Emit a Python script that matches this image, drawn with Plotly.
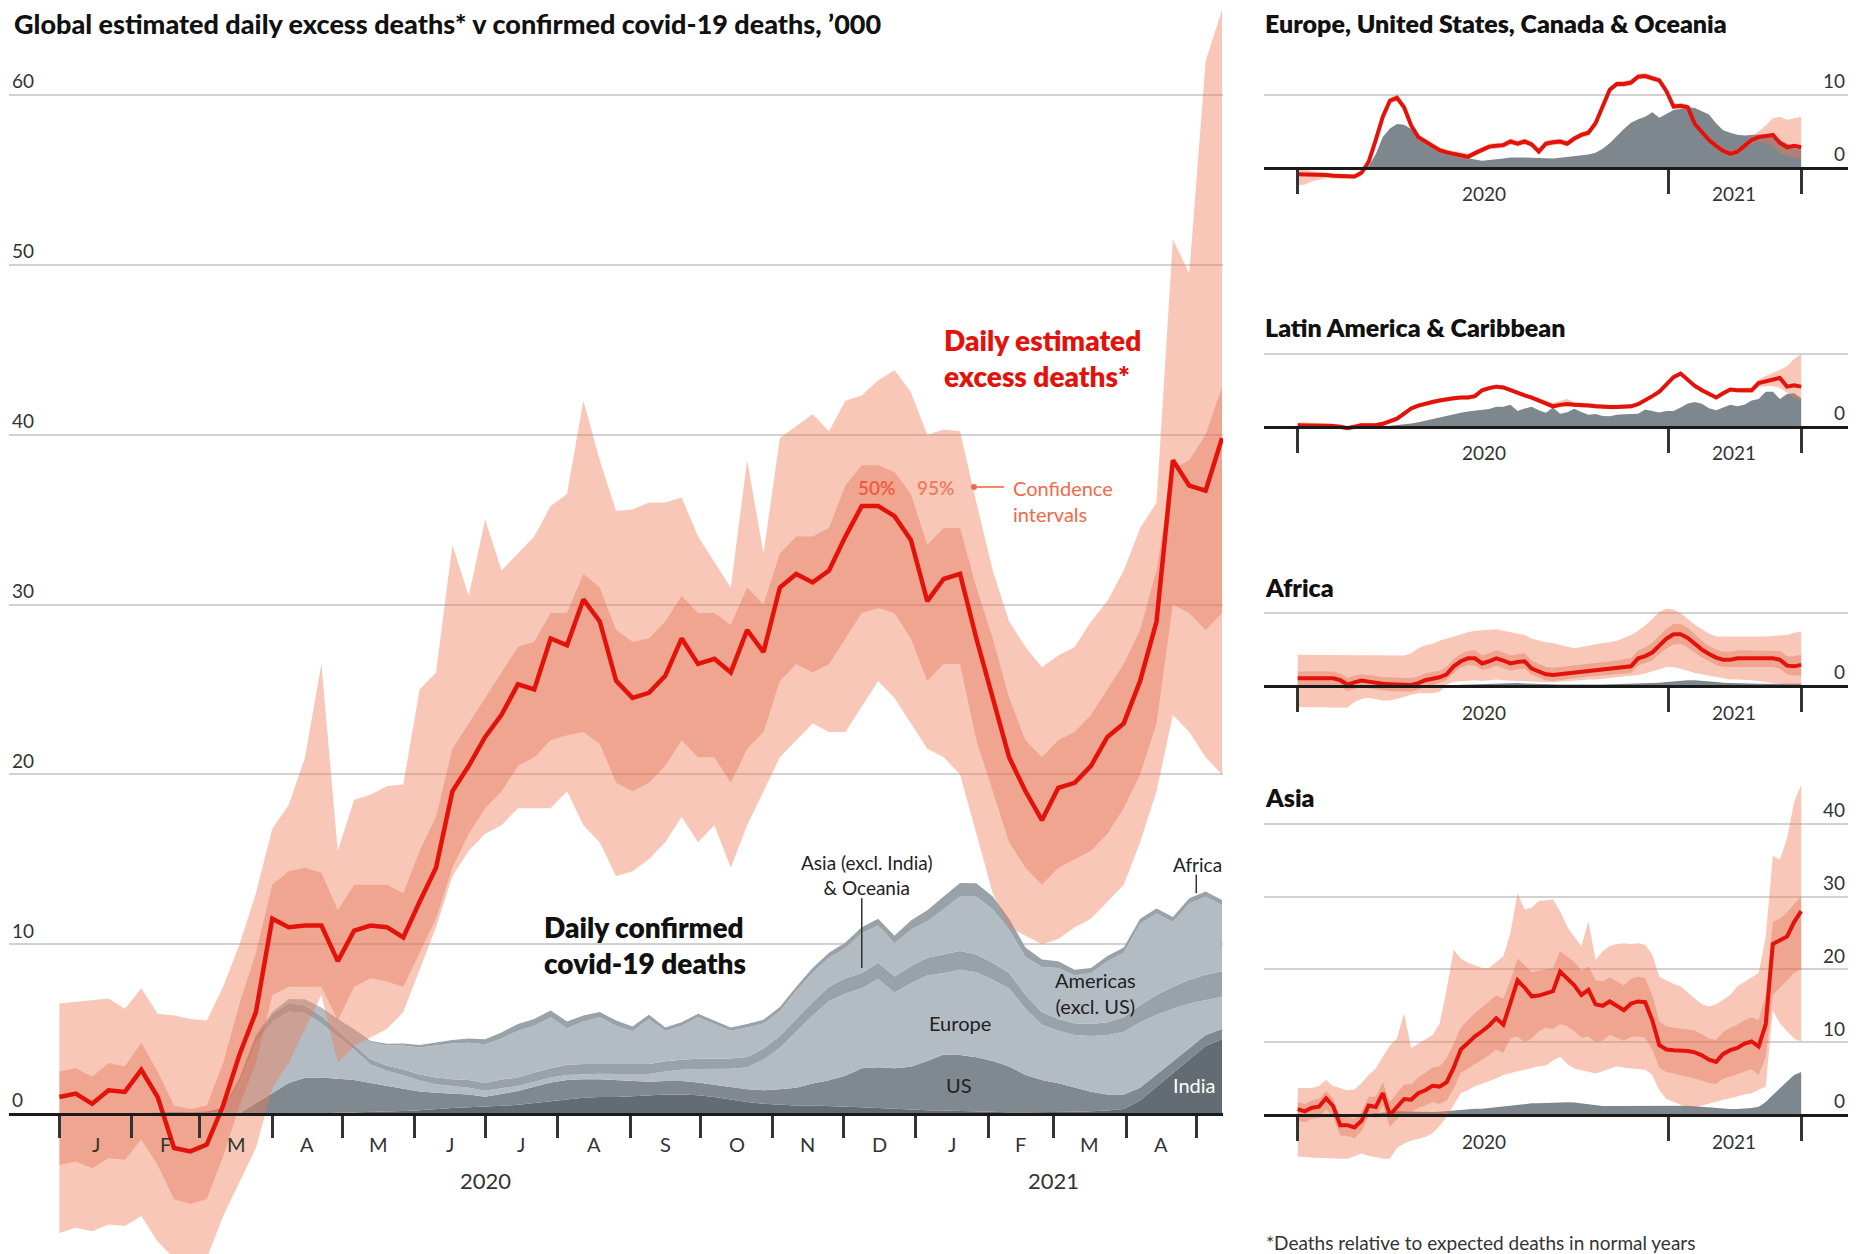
import pandas as pd
import plotly.graph_objects as go

W, H = 1863, 1254

# ---------------- data (thousands of deaths per day, weekly from 1 Jan 2020) ----------------
N_WEEKS = 72
START = "2020-01-01"

EXCESS_MEDIAN = [1.0, 1.2, 0.6, 1.4, 1.3, 2.6, 1.0, -2.0, -2.2, -1.8,
                 0.5, 3.5, 6.0, 11.5, 11.0, 11.1, 11.1, 9.0, 10.8, 11.1,
                 11.0, 10.4, 12.5, 14.5, 19.0, 20.5, 22.2, 23.5, 25.3, 25.0,
                 28.0, 27.6, 30.3, 29.0, 25.5, 24.5, 24.8, 25.8, 28.0, 26.5,
                 26.8, 26.0, 28.5, 27.2, 31.0, 31.8, 31.3, 32.0, 34.0, 35.8,
                 35.8, 35.2, 33.8, 30.2, 31.5, 31.8, 28.0, 24.5, 21.0, 19.0,
                 17.3, 19.2, 19.5, 20.5, 22.2, 23.0, 25.5, 29.0, 38.5, 37.0,
                 36.7, 39.8]
EXCESS_UP95 = [6.5, 6.6, 6.7, 6.8, 6.2, 7.4, 5.9, 5.8, 5.6, 5.5,
               7.5, 10.0, 13.0, 16.8, 18.2, 21.0, 26.5, 15.5, 18.5, 18.8,
               19.3, 19.4, 25.0, 26.0, 33.5, 30.5, 35.0, 32.0, 33.0, 34.0,
               35.8, 36.5, 42.0, 38.5, 35.5, 35.6, 36.0, 36.0, 36.3, 34.0,
               32.5, 31.0, 38.5, 33.0, 39.8, 40.5, 41.2, 40.2, 42.0, 42.3,
               43.2, 43.8, 42.5, 40.0, 40.3, 40.2, 36.0, 32.0, 29.0, 27.5,
               26.3, 27.0, 27.5, 29.0, 30.2, 32.0, 34.5, 36.0, 51.5, 49.5,
               62.0, 65.0]
EXCESS_LO95 = [-7.0, -6.7, -6.9, -6.5, -6.6, -6.0, -7.5, -8.5, -8.5, -8.5,
               -6.0, -4.0, -2.0, 1.5, 3.0, 5.0, 7.0, 3.0, 4.0, 4.5,
               5.0, 6.0, 8.5, 11.0, 14.0, 15.5, 16.5, 17.0, 18.0, 18.0,
               18.0, 19.0, 17.0, 16.0, 14.0, 14.3, 15.0, 16.0, 17.5, 16.0,
               17.0, 14.5, 17.0, 19.0, 21.0, 22.0, 23.0, 22.5, 22.5, 24.0,
               25.5, 24.5, 23.0, 21.5, 21.0, 20.0, 16.5, 13.0, 11.0, 10.5,
               10.0, 10.3, 11.0, 11.5, 12.5, 13.5, 16.0, 19.0, 23.5, 22.5,
               21.0, 20.0]
EXCESS_UP50 = [2.5, 2.7, 2.2, 3.0, 2.8, 4.2, 2.5, 0.5, 0.3, 0.5,
               3.0, 6.5, 9.5, 13.5, 14.3, 14.5, 14.2, 12.0, 13.5, 13.5,
               13.5, 13.0, 15.5, 17.5, 21.5, 23.0, 24.5, 26.0, 27.5, 27.8,
               29.5, 29.5, 31.8, 31.0, 28.5, 27.8, 28.0, 29.0, 30.5, 29.5,
               29.5, 28.8, 31.0, 30.0, 33.0, 34.0, 34.0, 34.5, 37.0, 38.2,
               38.2, 37.8, 36.5, 33.5, 34.5, 34.5, 31.0, 28.0, 24.5, 22.0,
               21.0, 22.0, 22.5, 23.5, 25.0, 26.5, 28.5, 32.0, 38.0, 38.5,
               40.0, 42.8]
EXCESS_LO50 = [-3.0, -2.8, -3.2, -2.6, -2.7, -1.5, -3.0, -5.0, -5.3, -5.0,
               -2.5, 0.5, 3.0, 7.0, 7.5, 7.5, 7.5, 5.5, 7.5, 8.0,
               7.8, 7.5, 9.5, 11.5, 14.5, 16.5, 18.0, 19.0, 20.5, 21.0,
               22.0, 22.3, 22.5, 21.8, 19.5, 19.0, 19.5, 20.5, 22.0, 21.0,
               21.0, 19.5, 21.5, 22.5, 25.5, 26.5, 26.0, 26.5, 28.0, 29.5,
               29.8, 29.5, 28.0, 25.5, 26.5, 26.5, 22.0, 19.0, 16.0, 14.5,
               13.5, 14.5, 15.0, 15.5, 16.5, 18.0, 20.0, 23.0, 30.0, 29.5,
               28.5, 29.5]

# confirmed covid-19 deaths by region (stack, bottom to top)
CONF_INDIA = [0, 0, 0, 0, 0, 0, 0, 0, 0, 0,
              0, 0, 0.01, 0.02, 0.03, 0.04, 0.05, 0.07, 0.1, 0.12,
              0.14, 0.18, 0.22, 0.3, 0.35, 0.4, 0.42, 0.48, 0.55, 0.65,
              0.75, 0.85, 0.95, 1.0, 1.0, 1.05, 1.1, 1.15, 1.15, 1.1,
              1.0, 0.85, 0.7, 0.6, 0.55, 0.5, 0.5, 0.48, 0.45, 0.4,
              0.35, 0.3, 0.28, 0.22, 0.2, 0.17, 0.14, 0.12, 0.1, 0.1,
              0.1, 0.11, 0.13, 0.16, 0.2, 0.3, 0.8, 1.6, 2.4, 3.2,
              4.0, 4.4]
CONF_US = [0, 0, 0, 0, 0, 0, 0, 0, 0, 0,
           0.01, 0.05, 0.6, 1.2, 1.8, 2.1, 2.1, 2.0, 1.9, 1.7,
           1.5, 1.3, 1.1, 0.95, 0.85, 0.75, 0.6, 0.7, 0.8, 0.95,
           1.1, 1.15, 1.1, 1.05, 1.0, 0.9, 0.8, 0.8, 0.8, 0.75,
           0.72, 0.72, 0.75, 0.8, 0.9, 1.05, 1.3, 1.5, 1.8, 2.3,
           2.4, 2.4, 2.5, 2.9, 3.3, 3.3, 3.2, 3.0, 2.7, 2.2,
           1.9, 1.7, 1.45, 1.15, 0.95, 0.85, 0.75, 0.72, 0.7, 0.68,
           0.65, 0.6]
CONF_EUROPE = [0, 0, 0, 0, 0, 0, 0, 0, 0.01, 0.05,
               0.2, 1.8, 3.6, 4.2, 4.2, 3.8, 3.2, 2.5, 1.8, 1.1,
               0.9, 0.8, 0.65, 0.5, 0.45, 0.4, 0.35, 0.35, 0.3, 0.3,
               0.3, 0.3, 0.3, 0.32, 0.35, 0.4, 0.45, 0.55, 0.65, 0.8,
               0.95, 1.1, 1.3, 1.8, 2.45, 3.3, 4.0, 4.67, 4.85, 4.7,
               5.2, 4.45, 4.92, 5.03, 4.8, 5.03, 5.0, 4.78, 4.6, 3.9,
               3.25, 3.09, 3.07, 3.29, 3.5, 3.7, 3.85, 3.53, 3.1, 2.62,
               2.05, 1.9]
CONF_ASIA = [0, 0, 0, 0, 0.02, 0.05, 0.1, 0.12, 0.1, 0.1,
             0.15, 0.25, 0.35, 0.45, 0.5, 0.45, 0.4, 0.35, 0.3, 0.3,
             0.3, 0.35, 0.35, 0.4, 0.4, 0.45, 0.45, 0.5, 0.5, 0.55,
             0.55, 0.6, 0.6, 0.6, 0.6, 0.6, 0.6, 0.6, 0.6, 0.6,
             0.6, 0.6, 0.6, 0.65, 0.7, 0.75, 0.8, 0.85, 0.9, 0.9,
             0.95, 0.95, 1.0, 1.05, 1.1, 1.1, 1.05, 1.0, 0.9, 0.8,
             0.75, 0.7, 0.7, 0.7, 0.75, 0.85, 1.0, 1.15, 1.3, 1.4,
             1.5, 1.5]
CONF_AMERICAS = [0, 0, 0, 0, 0, 0, 0, 0, 0, 0,
                 0.01, 0.03, 0.06, 0.12, 0.2, 0.3, 0.45, 0.6, 0.8, 1.0,
                 1.2, 1.4, 1.6, 1.9, 2.1, 2.2, 2.28, 2.42, 2.75, 2.75,
                 3.0, 2.15, 2.5, 2.73, 2.25, 1.92, 2.65, 1.78, 2.0, 2.45,
                 2.03, 1.63, 1.75, 1.48, 1.45, 1.65, 1.72, 1.7, 1.78, 2.35,
                 2.2, 1.95, 2.15, 2.15, 2.65, 3.2, 3.4, 3.15, 2.55, 2.25,
                 2.65, 3.0, 2.8, 3.0, 3.6, 3.8, 4.8, 4.8, 3.8, 4.5,
                 4.6, 3.9]
CONF_AFRICA = [0, 0, 0, 0, 0, 0, 0, 0, 0, 0,
               0, 0, 0.01, 0.02, 0.03, 0.05, 0.05, 0.06, 0.07, 0.08,
               0.1, 0.12, 0.15, 0.18, 0.2, 0.25, 0.3, 0.35, 0.4, 0.4,
               0.4, 0.4, 0.35, 0.3, 0.3, 0.28, 0.25, 0.22, 0.2, 0.2,
               0.2, 0.2, 0.2, 0.22, 0.25, 0.25, 0.28, 0.3, 0.32, 0.35,
               0.4, 0.45, 0.55, 0.65, 0.75, 0.8, 0.8, 0.75, 0.65, 0.55,
               0.45, 0.4, 0.35, 0.3, 0.3, 0.3, 0.3, 0.3, 0.3, 0.3,
               0.3, 0.3]

# regional panels: estimated excess deaths
EUCO_MEDIAN = [-0.9, -0.9, -1.0, -1.0, -1.0, -1.1, -1.1, -1.2, -1.2, -0.7,
               0.8, 3.8, 7.0, 9.2, 9.6, 8.3, 5.8, 4.2, 3.6, 3.0,
               2.4, 2.1, 1.9, 1.8, 1.5, 2.0, 2.4, 2.9, 3.0, 3.1,
               3.6, 3.3, 3.6, 3.2, 2.2, 3.3, 3.5, 3.6, 3.3, 4.0,
               4.5, 4.8, 6.1, 8.5, 10.7, 11.5, 11.5, 11.7, 12.5, 12.6,
               12.3, 12.0, 10.5, 8.4, 8.5, 8.3, 6.0, 4.8, 3.8, 3.0,
               2.3, 1.9, 2.2, 3.0, 3.8, 4.2, 4.4, 4.5, 3.4, 2.8,
               3.0, 2.8]
EUCO_UP95 = [-0.1, -0.2, -0.5, -0.6, -0.7, -0.8, -0.8, -0.9, -0.9, -0.4,
             1.2, 4.2, 7.4, 9.6, 10.0, 8.7, 6.2, 4.6, 4.0, 3.4,
             2.8, 2.5, 2.3, 2.2, 1.9, 2.4, 2.8, 3.3, 3.4, 3.5,
             4.0, 3.7, 4.0, 3.6, 2.6, 3.7, 3.9, 4.0, 3.7, 4.4,
             4.9, 5.2, 6.5, 8.9, 11.1, 11.9, 11.9, 12.1, 12.9, 13.0,
             12.7, 12.4, 10.9, 8.8, 8.9, 8.7, 6.4, 5.2, 4.2, 3.4,
             2.7, 2.3, 2.6, 3.4, 4.3, 5.0, 5.8, 6.8, 7.0, 6.6,
             6.8, 7.0]
EUCO_LO95 = [-2.4, -2.3, -1.9, -1.6, -1.4, -1.5, -1.5, -1.6, -1.6, -1.1,
             0.4, 3.4, 6.6, 8.8, 9.2, 7.9, 5.4, 3.8, 3.2, 2.6,
             2.0, 1.7, 1.5, 1.4, 1.1, 1.6, 2.0, 2.5, 2.6, 2.7,
             3.2, 2.9, 3.2, 2.8, 1.8, 2.9, 3.1, 3.2, 2.9, 3.6,
             4.1, 4.4, 5.7, 8.1, 10.3, 11.1, 11.1, 11.3, 12.1, 12.2,
             11.9, 11.6, 10.1, 8.0, 8.1, 7.9, 5.6, 4.4, 3.4, 2.6,
             1.9, 1.5, 1.8, 2.6, 3.3, 3.6, 3.4, 3.0, 2.0, 1.6,
             1.4, 1.2]

LATAM_MEDIAN = [0.2, 0.2, 0.2, 0.2, 0.2, 0.1, 0.0, -0.2, 0.0, 0.2,
                0.2, 0.2, 0.4, 0.7, 1.1, 1.8, 2.5, 2.9, 3.2, 3.4,
                3.6, 3.8, 3.9, 4.0, 4.0, 4.2, 5.0, 5.3, 5.5, 5.4,
                5.0, 4.6, 4.3, 4.0, 3.6, 3.2, 2.8, 3.0, 3.1, 3.0,
                3.0, 2.9, 2.8, 2.7, 2.7, 2.7, 2.7, 2.8, 3.1, 3.6,
                4.2, 4.8, 5.8, 6.8, 7.3, 6.5, 5.6, 5.0, 4.5, 4.0,
                4.6, 5.1, 5.0, 5.0, 5.0, 6.0, 6.2, 6.5, 6.7, 5.5,
                5.7, 5.5]
LATAM_UP95 = [0.6, 0.6, 0.55, 0.5, 0.5, 0.4, 0.3, 0.1, 0.3, 0.5,
              0.5, 0.5, 0.7, 1.0, 1.4, 2.1, 2.8, 3.2, 3.5, 3.7,
              3.9, 4.1, 4.2, 4.3, 4.3, 4.5, 5.3, 5.6, 5.8, 5.7,
              5.3, 4.9, 4.6, 4.3, 3.9, 3.6, 3.3, 3.6, 3.8, 3.4,
              3.3, 3.2, 3.1, 3.0, 3.0, 3.0, 3.0, 3.1, 3.4, 3.9,
              4.5, 5.1, 6.1, 7.1, 7.6, 6.8, 5.9, 5.3, 4.8, 4.3,
              4.9, 5.4, 5.3, 5.3, 5.4, 6.5, 7.0, 7.4, 7.8, 8.3,
              9.3, 10.0]
LATAM_LO95 = [-0.2, -0.2, -0.15, -0.1, -0.1, -0.2, -0.3, -0.5, -0.3, -0.1,
              -0.1, -0.1, 0.1, 0.4, 0.8, 1.5, 2.2, 2.6, 2.9, 3.1,
              3.3, 3.5, 3.6, 3.7, 3.7, 3.9, 4.7, 5.0, 5.2, 5.1,
              4.7, 4.3, 4.0, 3.7, 3.3, 2.9, 2.5, 2.7, 2.8, 2.7,
              2.7, 2.6, 2.5, 2.4, 2.4, 2.4, 2.4, 2.5, 2.8, 3.3,
              3.9, 4.5, 5.5, 6.5, 7.0, 6.2, 5.3, 4.7, 4.2, 3.7,
              4.3, 4.8, 4.7, 4.7, 4.6, 5.5, 5.6, 5.6, 5.3, 4.6,
              4.0, 3.5]

AFRICA_MEDIAN = [1.06, 1.06, 1.06, 1.06, 1.06, 1.06, 0.8, 0.2, 0.5, 0.75,
                 0.6, 0.4, 0.3, 0.25, 0.2, 0.15, 0.15, 0.4, 0.8, 1.0,
                 1.2, 1.6, 2.7, 3.4, 3.8, 3.8, 3.1, 3.4, 3.8, 3.5,
                 3.1, 3.3, 3.4, 2.4, 2.0, 1.6, 1.5, 1.6, 1.8, 1.9,
                 2.0, 2.1, 2.2, 2.3, 2.4, 2.5, 2.6, 2.7, 3.8, 4.1,
                 4.6, 5.6, 6.5, 7.1, 7.1, 6.6, 5.8, 5.0, 4.4, 3.9,
                 3.6, 3.6, 3.8, 3.8, 3.7, 3.7, 3.7, 3.8, 3.6, 2.8,
                 2.7, 2.9]
AFRICA_UP95 = [4.3, 4.3, 4.3, 4.3, 4.3, 4.3, 4.3, 4.3, 4.3, 4.3,
               4.3, 4.2, 4.2, 4.2, 4.2, 4.2, 4.5, 5.2, 5.6, 5.8,
               6.2, 6.5, 6.8, 7.2, 7.4, 7.6, 7.7, 7.8, 7.8, 7.6,
               7.4, 7.2, 7.0, 6.5, 6.2, 6.0, 5.9, 5.6, 5.4, 5.2,
               5.4, 5.5, 5.7, 5.9, 6.0, 6.2, 6.6, 7.0, 7.6, 8.3,
               9.2, 10.2, 10.6, 10.5, 10.0, 9.2, 8.4, 7.8, 7.2, 6.8,
               6.8, 6.7, 6.8, 6.8, 6.7, 6.8, 6.8, 6.9, 6.9, 7.0,
               7.3, 7.5]
AFRICA_LO95 = [-2.9, -2.9, -2.9, -2.9, -2.9, -2.9, -2.9, -3.0, -2.2, -1.8,
               -1.6, -1.8, -2.0, -2.0, -1.8, -1.5, -1.2, -1.0, -1.0, -1.0,
               -0.8, 0.2, 0.6, 0.7, 0.8, 0.8, 0.7, 0.8, 0.9, 0.8,
               0.7, 0.7, 0.7, 0.6, 0.5, 0.5, 0.5, 0.6, 0.7, 0.8,
               0.8, 0.9, 0.9, 1.0, 1.0, 1.1, 1.2, 1.3, 1.5, 1.7,
               2.0, 2.3, 2.6, 2.6, 2.4, 2.1, 1.8, 1.6, 1.4, 1.2,
               1.0, 0.9, 0.9, 0.9, 0.8, 0.7, 0.6, 0.5, 0.4, 0.2,
               0.0, 0.0]
AFRICA_UP50 = [2.0, 2.0, 2.0, 2.0, 2.0, 2.0, 1.7, 1.1, 1.4, 1.6,
               1.5, 1.3, 1.2, 1.2, 1.1, 1.1, 1.1, 1.3, 1.7, 1.9,
               2.1, 2.6, 3.7, 4.4, 4.8, 4.9, 4.2, 4.5, 4.9, 4.6,
               4.2, 4.4, 4.5, 3.5, 3.0, 2.6, 2.5, 2.6, 2.8, 2.9,
               3.0, 3.1, 3.2, 3.3, 3.4, 3.5, 3.7, 3.8, 4.9, 5.3,
               5.9, 6.9, 7.9, 8.5, 8.5, 8.0, 7.1, 6.2, 5.5, 5.0,
               4.7, 4.7, 4.9, 4.9, 4.8, 4.8, 4.8, 4.9, 4.8, 4.1,
               4.1, 4.3]
AFRICA_LO50 = [0.1, 0.1, 0.1, 0.1, 0.1, 0.1, -0.1, -0.7, -0.4, -0.1,
               -0.3, -0.5, -0.6, -0.7, -0.7, -0.8, -0.8, -0.5, -0.1, 0.1,
               0.4, 0.8, 1.8, 2.5, 2.9, 2.8, 2.2, 2.4, 2.8, 2.5,
               2.1, 2.3, 2.4, 1.5, 1.1, 0.8, 0.7, 0.8, 1.0, 1.1,
               1.2, 1.3, 1.3, 1.4, 1.5, 1.6, 1.7, 1.8, 2.8, 3.1,
               3.5, 4.4, 5.2, 5.7, 5.8, 5.3, 4.6, 3.9, 3.4, 2.9,
               2.6, 2.6, 2.7, 2.7, 2.6, 2.6, 2.6, 2.6, 2.4, 1.6,
               1.4, 1.5]

ASIA_MEDIAN = [0.8, 0.5, 1.0, 1.15, 2.3, 1.2, -1.4, -1.4, -1.7, -0.8,
               1.3, 1.1, 3.0, 0.0, 1.1, 2.2, 2.1, 3.0, 3.4, 4.0,
               3.9, 4.5, 6.5, 9.0, 9.9, 10.8, 11.5, 12.3, 13.3, 12.4,
               15.4, 18.5, 17.5, 16.3, 16.4, 16.7, 17.0, 19.7, 18.8, 17.8,
               16.5, 17.2, 15.2, 15.0, 15.6, 15.0, 14.4, 15.3, 15.6, 15.5,
               13.0, 9.6, 9.0, 8.9, 8.9, 8.8, 8.6, 8.2, 7.6, 7.3,
               8.4, 8.9, 9.2, 9.8, 10.1, 9.4, 12.5, 23.5, 24.0, 24.5,
               26.5, 28.0]
ASIA_UP95 = [3.7, 3.7, 3.7, 4.0, 4.8, 4.0, 3.7, 3.4, 3.5, 4.4,
             5.5, 6.4, 8.0, 9.5, 10.5, 14.0, 9.2, 9.8, 10.3, 11.0,
             12.5, 17.2, 22.7, 21.5, 20.9, 20.5, 20.2, 20.2, 21.0, 21.8,
             25.0, 30.5, 28.2, 28.5, 29.4, 29.5, 29.6, 28.0, 25.9, 24.5,
             23.2, 26.6, 21.3, 22.5, 23.2, 23.5, 23.6, 23.5, 23.6, 23.4,
             22.0, 19.0, 18.5, 18.0, 17.7, 16.8, 16.0, 15.2, 14.9, 15.2,
             15.8, 16.5, 17.7, 18.3, 18.9, 19.5, 24.5, 35.6, 35.1, 38.0,
             43.0, 45.4]
ASIA_LO95 = [-5.7, -5.8, -5.8, -5.9, -5.9, -6.0, -6.0, -6.0, -5.6, -5.3,
             -5.6, -5.8, -6.0, -6.0, -4.5, -3.9, -3.5, -3.3, -3.0, -2.5,
             -1.5, -0.2, 1.5, 3.0, 3.4, 4.0, 4.3, 4.6, 5.0, 5.5,
             5.8, 6.0, 6.2, 6.5, 6.7, 6.8, 7.5, 8.0, 7.0, 6.4,
             6.2, 5.9, 5.7, 6.0, 6.4, 6.7, 6.5, 6.4, 6.2, 6.2,
             5.5, 3.4, 2.2, 1.8, 1.4, 1.15, 1.15, 1.3, 1.6, 1.8,
             2.1, 2.3, 2.6, 2.8, 3.0, 3.5, 3.9, 14.4, 12.6, 11.5,
             10.5, 10.1]
ASIA_UP50 = [1.8, 1.5, 2.0, 2.2, 3.3, 2.3, -0.2, -0.2, -0.5, 0.4,
             2.5, 2.5, 4.5, 1.8, 3.0, 4.2, 4.2, 5.2, 5.8, 6.5,
             6.7, 7.8, 9.8, 12.0, 13.0, 14.0, 14.8, 15.6, 16.4, 16.0,
             18.5, 21.5, 20.5, 19.6, 19.8, 20.0, 20.2, 22.5, 21.8, 21.0,
             19.8, 20.4, 18.5, 18.3, 18.9, 18.4, 17.8, 18.7, 19.0, 18.8,
             16.5, 12.8, 12.2, 12.0, 11.9, 11.8, 11.6, 11.1, 10.5, 10.3,
             11.4, 12.0, 12.4, 13.0, 13.4, 13.0, 16.5, 26.5, 27.0, 27.8,
             29.0, 30.0]
ASIA_LO50 = [-0.8, -1.0, -0.5, -0.4, 0.8, -0.3, -2.8, -2.9, -3.2, -2.2,
             -0.2, -0.4, 1.3, -1.6, -0.6, 0.4, 0.3, 1.0, 1.3, 1.8,
             1.5, 2.0, 3.6, 5.8, 6.4, 7.0, 7.6, 8.2, 9.0, 8.5,
             10.5, 10.8, 10.0, 10.5, 11.5, 12.0, 11.8, 12.5, 12.2, 11.5,
             10.6, 10.8, 10.0, 10.2, 11.0, 10.6, 10.2, 10.7, 10.8, 10.6,
             9.0, 6.5, 5.9, 5.7, 5.5, 5.2, 5.0, 4.7, 4.4, 4.3,
             5.0, 5.3, 5.6, 6.0, 6.3, 5.5, 8.0, 16.5, 17.5, 18.5,
             19.5, 20.0]

MONTH_LETTERS = ["J", "F", "M", "A", "M", "J", "J", "A", "S", "O", "N", "D",
                 "J", "F", "M", "A"]
MAIN_YTICKS = [0, 10, 20, 30, 40, 50, 60]
YEAR_LABELS = ["2020", "2021"]

# ---------------- derived ----------------
dates = pd.date_range(START, periods=N_WEEKS, freq="7D")
X = [d.strftime("%Y-%m-%d") for d in dates]
JAN1 = pd.Timestamp("2020-01-01")
LAST = dates[-1]

def add(a, b):
    return [p + q for p, q in zip(a, b)]

PANEL_GREY = {
    "euco": add(CONF_US, CONF_EUROPE),
    "latam": CONF_AMERICAS,
    "africa": CONF_AFRICA,
    "asia": add(CONF_INDIA, CONF_ASIA),
}

# ---------------- styling / geometry ----------------
FONT = "Lato, 'Open Sans', sans-serif"
RED = "#e3120b"
BAND95 = "rgba(239,122,85,0.42)"
BAND50 = "rgba(226,96,64,0.33)"
GRID = "#d2d2d2"
INK = "#1a1a1a"

def px2p_x(px):
    return px / W

def px2p_y(py):
    return 1 - py / H

def ydom(top_px, bot_px):
    return [px2p_y(bot_px), px2p_y(top_px)]

def yrng(zero_px, top_px, bot_px, scale):
    return [(zero_px - bot_px) / scale, (zero_px - top_px) / scale]

def date_at(px, ref_px, per_day):
    return JAN1 + pd.Timedelta(days=(px - ref_px) / per_day)

# main panel geometry
M_L, M_R = 9.0, 1223.0
M_JAN_PX = 59.4
M_PXD = (1222.0 - M_JAN_PX) / (LAST - JAN1).days
M_ZERO = 1114.0
M_SCALE = (1114.0 - 95.0) / 60.0
M_TOP, M_BOT = 8.0, 1254.0

# small panels geometry
S_L, S_R = 1263.7, 1848.0
S_JAN_PX = 1297.7
S_PXD = (1801.2 - S_JAN_PX) / (LAST - JAN1).days
S_SCALE = 7.28
PANELS = [
    # key, title, zero px, top px, bottom px, gridline ticks, title y
    ("euco", "Europe, United States, Canada & Oceania", 167.7, 62.0, 192.0, [0, 10], 23),
    ("latam", "Latin America & Caribbean", 426.7, 345.0, 451.0, [0, 10], 327),
    ("africa", "Africa", 686.0, 600.0, 711.0, [0, 10], 587),
    ("asia", "Asia", 1115.0, 776.0, 1166.0, [0, 10, 20, 30, 40], 797),
]
PANEL_SERIES = {
    "euco": (EUCO_MEDIAN, EUCO_UP95, EUCO_LO95, None, None),
    "latam": (LATAM_MEDIAN, LATAM_UP95, LATAM_LO95, None, None),
    "africa": (AFRICA_MEDIAN, AFRICA_UP95, AFRICA_LO95, AFRICA_UP50, AFRICA_LO50),
    "asia": (ASIA_MEDIAN, ASIA_UP95, ASIA_LO95, ASIA_UP50, ASIA_LO50),
}

fig = go.Figure()

def band(lo, hi, color, xa, ya):
    fig.add_trace(go.Scatter(x=X, y=lo, mode="lines", line=dict(width=0),
                             xaxis=xa, yaxis=ya, hoverinfo="skip", showlegend=False))
    fig.add_trace(go.Scatter(x=X, y=hi, mode="lines", line=dict(width=0), fill="tonexty",
                             fillcolor=color, xaxis=xa, yaxis=ya, hoverinfo="skip",
                             showlegend=False))

# ---- main chart: stacked confirmed deaths
STACK = [
    ("India", CONF_INDIA, "#636c72"),
    ("US", CONF_US, "#80898f"),
    ("Europe", CONF_EUROPE, "#b4bcc3"),
    ("Asia (excl. India) & Oceania", CONF_ASIA, "#99a2a9"),
    ("Americas (excl. US)", CONF_AMERICAS, "#b4bcc3"),
    ("Africa", CONF_AFRICA, "#99a2a9"),
]
for name, vals, col in STACK:
    fig.add_trace(go.Scatter(x=X, y=vals, name=name, mode="lines", stackgroup="conf",
                             line=dict(width=0, color=col), fillcolor=col,
                             xaxis="x", yaxis="y", showlegend=False))

band(EXCESS_LO95, EXCESS_UP95, BAND95, "x", "y")
band(EXCESS_LO50, EXCESS_UP50, BAND50, "x", "y")
fig.add_trace(go.Scatter(x=X, y=EXCESS_MEDIAN, mode="lines", name="Excess deaths",
                         line=dict(color=RED, width=4.5), xaxis="x", yaxis="y",
                         showlegend=False))

month_starts = pd.date_range("2020-01-01", "2021-05-01", freq="MS")
layout_axes = {}
layout_axes["xaxis"] = dict(
    domain=[px2p_x(M_L), px2p_x(M_R)], type="date",
    range=[date_at(M_L, M_JAN_PX, M_PXD), date_at(M_R, M_JAN_PX, M_PXD)],
    anchor="free", position=px2p_y(M_ZERO), showline=True, linecolor=INK, linewidth=3,
    ticks="outside", ticklen=22, tickwidth=2.5, tickcolor="#333",
    tickvals=[d.strftime("%Y-%m-%d") for d in month_starts], showticklabels=False,
    showgrid=False, zeroline=False, layer="above traces", fixedrange=True)
layout_axes["yaxis"] = dict(
    domain=ydom(M_TOP, M_BOT), range=yrng(M_ZERO, M_TOP, M_BOT, M_SCALE), anchor="x",
    tickvals=MAIN_YTICKS, ticks="", ticklabelposition="inside top",
    tickfont=dict(family=FONT, size=19, color="#333"), showgrid=True, gridcolor=GRID,
    gridwidth=2, zeroline=False, showline=False, fixedrange=True)

annotations = []
shapes = []

def text(px, py, s, size=19, color="#222", xanchor="left", align="left", weight=None):
    f = dict(family=FONT, size=size, color=color)
    if weight:
        f["weight"] = weight
    annotations.append(dict(x=px2p_x(px), y=px2p_y(py), xref="paper", yref="paper", text=s,
                            showarrow=False, xanchor=xanchor, yanchor="middle", align=align,
                            font=f))

# month letters and year labels on the main chart
for i, letter in enumerate(MONTH_LETTERS):
    mid = month_starts[i] + (month_starts[i + 1] - month_starts[i]) / 2
    annotations.append(dict(x=mid.strftime("%Y-%m-%d %H:%M"), y=px2p_y(1144), xref="x",
                            yref="paper", text=letter, showarrow=False, yanchor="middle",
                            font=dict(family=FONT, size=20, color="#333")))
for lbl, d in zip(YEAR_LABELS, ["2020-07-01", "2021-03-01"]):
    annotations.append(dict(x=d, y=px2p_y(1180), xref="x", yref="paper", text=lbl,
                            showarrow=False, yanchor="middle",
                            font=dict(family=FONT, size=22, color="#333")))

# titles and labels
text(12, 24, "Global estimated daily excess deaths* v confirmed covid-19 deaths, ’000",
     size=27, color="#111", weight=900)
text(942, 357.5, "Daily estimated<br>excess deaths*", size=28, color=RED, weight=800)
text(542, 944.5, "Daily confirmed<br>covid-19 deaths", size=28, color="#111", weight=800)
text(876, 488, "50%", size=19, color="#ef5a3c", xanchor="center", weight=600)
text(935, 488, "95%", size=19, color="#f07a5c", xanchor="center", weight=600)
text(1011, 501, "Confidence<br>intervals", size=20, color="#f06a48")
shapes.append(dict(type="line", xref="paper", yref="paper", x0=px2p_x(974), x1=px2p_x(1004),
                   y0=px2p_y(487), y1=px2p_y(487), line=dict(color="#f08a6c", width=2)))
shapes.append(dict(type="circle", xref="paper", yref="paper", x0=px2p_x(971), x1=px2p_x(977),
                   y0=px2p_y(484), y1=px2p_y(490), line=dict(width=0), fillcolor="#ef6a4a"))
text(866, 875, "Asia (excl. India)<br>& Oceania", size=19, xanchor="center", align="center")
shapes.append(dict(type="line", xref="x", yref="y", x0="2020-12-09", x1="2020-12-09",
                   y0=12.7, y1=8.6, line=dict(color="#333", width=1.5)))
text(1197, 864, "Africa", size=19, xanchor="center")
shapes.append(dict(type="line", xref="x", yref="y", x0="2021-05-01", x1="2021-05-01",
                   y0=14.1, y1=13.0, line=dict(color="#333", width=1.5)))
text(1095, 992.5, "Americas<br>(excl. US)", size=20, xanchor="center", align="center")
text(960, 1023, "Europe", size=20, xanchor="center")
text(959, 1085, "US", size=20, xanchor="center")
text(1194, 1085, "India", size=20, color="#ffffff", xanchor="center")

# ---- small multiples
for k, (key, title, zero, top, bot, yt, ty) in enumerate(PANELS):
    n = k + 2
    xa, ya = f"x{n}", f"y{n}"
    med, up95, lo95, up50, lo50 = PANEL_SERIES[key]
    fig.add_trace(go.Scatter(x=X, y=PANEL_GREY[key], mode="lines", fill="tozeroy",
                             fillcolor="#7f878e", line=dict(width=0, color="#7f878e"),
                             xaxis=xa, yaxis=ya, showlegend=False, hoverinfo="skip"))
    band(lo95, up95, BAND95, xa, ya)
    if up50 is not None:
        band(lo50, up50, BAND50, xa, ya)
    fig.add_trace(go.Scatter(x=X, y=med, mode="lines", line=dict(color=RED, width=4),
                             xaxis=xa, yaxis=ya, showlegend=False))
    layout_axes[f"xaxis{n}"] = dict(
        domain=[px2p_x(S_L), px2p_x(S_R)], type="date",
        range=[date_at(S_L, S_JAN_PX, S_PXD), date_at(S_R, S_JAN_PX, S_PXD)],
        anchor="free", position=px2p_y(zero), showline=True, linecolor=INK, linewidth=3,
        ticks="outside", ticklen=24, tickwidth=2.5, tickcolor="#333",
        tickvals=["2020-01-01", "2021-01-01", LAST.strftime("%Y-%m-%d")],
        showticklabels=False, showgrid=False, zeroline=False, layer="above traces",
        fixedrange=True)
    layout_axes[f"yaxis{n}"] = dict(
        domain=ydom(top, bot), range=yrng(zero, top, bot, S_SCALE), anchor=xa, side="right",
        tickvals=yt, ticks="", ticklabelposition="inside top",
        tickfont=dict(family=FONT, size=19, color="#333"), showgrid=True, gridcolor=GRID,
        gridwidth=2, zeroline=False, showline=False, fixedrange=True)
    text(1263, ty, title, size=25, color="#111", weight=800)
    for lbl, d in zip(YEAR_LABELS, ["2020-07-03", "2021-03-07"]):
        annotations.append(dict(x=d, xref=xa, y=px2p_y(zero + 26), yref="paper", text=lbl,
                                showarrow=False, yanchor="middle",
                                font=dict(family=FONT, size=19, color="#333")))

text(1264, 1242, "*Deaths relative to expected deaths in normal years", size=19, color="#333")

fig.update_layout(
    width=W, height=H, margin=dict(l=0, r=0, t=0, b=0),
    paper_bgcolor="white", plot_bgcolor="rgba(0,0,0,0)",
    showlegend=False, annotations=annotations, shapes=shapes,
    font=dict(family=FONT, color="#222"), hovermode=False,
    **layout_axes,
)

fig.write_html("out.html", include_plotlyjs=True, full_html=True,
               config={"displayModeBar": False},
               post_script="document.body.style.margin='0';document.body.style.overflow='hidden';")
